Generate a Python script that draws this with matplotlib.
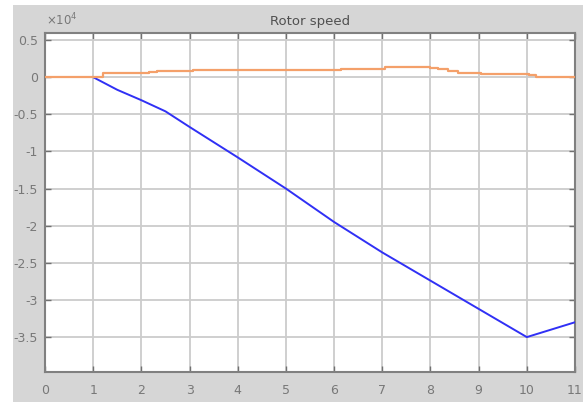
import matplotlib
matplotlib.use("Agg")
import matplotlib.pyplot as plt
from matplotlib.patches import Rectangle
from matplotlib.ticker import FuncFormatter

# Data (rotor speed, raw units)
blue_t = [1, 1.5, 2, 2.5, 3, 4, 5, 6, 7, 8, 9, 10, 11]
blue_v = [0, -1700, -3100, -4600, -6700, -10800, -15000, -19500, -23600, -27400, -31200, -35000, -33000]

orange_t = [0, 1.0, 1.2, 2.15, 2.32, 3.07, 6.15, 7.05, 8.0, 8.15, 8.36, 8.57, 9.05, 10.05, 10.19, 11]
orange_v = [0, 0, 500, 670, 800, 950, 1070, 1340, 1200, 1070, 800, 580, 490, 300, 0, 0]

x_ticks = list(range(0, 12))
y_ticks = [5000, 0, -5000, -10000, -15000, -20000, -25000, -30000, -35000]
title_text = "Rotor speed"

W, H = 586, 403
fig = plt.figure(figsize=(W / 100, H / 100), dpi=100, facecolor="white")
fig.patches.append(Rectangle((13 / W, 1 - 402 / H), (583 - 13) / W, (402 - 5) / H,
                             transform=fig.transFigure, facecolor="#d6d6d6",
                             edgecolor="none", zorder=-10))

ax = fig.add_axes([45 / W, 1 - 372 / H, (575 - 45) / W, (372 - 33) / H])
ax.set_facecolor("white")

ax.plot(blue_t, blue_v, color="#3030f5", lw=1.4, zorder=3)
ax.step(orange_t, orange_v, where="post", color="#f4a06a", lw=1.6, zorder=4)

ax.set_xlim(0, 11)
ax.set_ylim(-39700, 5950)
ax.set_xticks(x_ticks)
ax.set_yticks(y_ticks)
ax.yaxis.set_major_formatter(FuncFormatter(lambda v, p: f"{v / 1e4:g}"))
ax.xaxis.set_major_formatter(FuncFormatter(lambda v, p: f"{v:g}"))

ax.grid(True, color="#cccccc", lw=1.3)
ax.set_axisbelow(True)
ax.tick_params(direction="in", length=4, width=1, color="#707070",
               labelcolor="#787878", labelsize=9, top=True, right=True)
ax.tick_params(axis="x", pad=9)
ax.tick_params(axis="y", pad=5)
for s in ax.spines.values():
    s.set_color("#808080")
    s.set_linewidth(1.5)

ax.set_title(title_text, fontsize=9.5, color="#505050", pad=6)
fig.text(46 / W, 1 - 25 / H, r"$\times 10^{4}$", fontsize=8.5, color="#787878",
         ha="left", va="baseline")

fig.savefig("out.png", dpi=100, facecolor=fig.get_facecolor())
